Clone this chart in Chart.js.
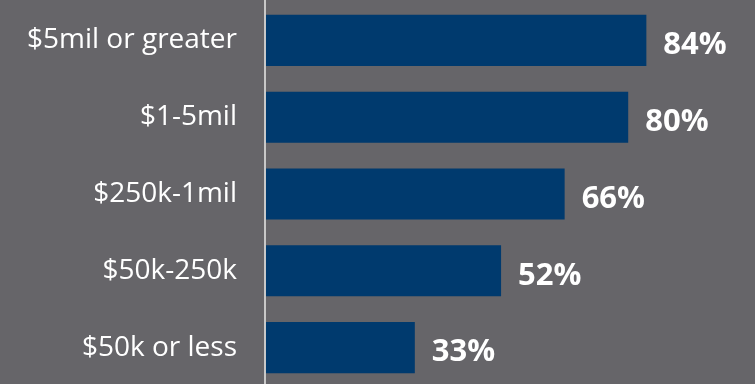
<!DOCTYPE html>
<html>
<head>
<meta charset="utf-8">
<script src="https://cdn.jsdelivr.net/npm/chart.js@4/dist/chart.umd.min.js"></script>
<style>
html,body{margin:0;padding:0;background:#666569;overflow:hidden;}
#wrap{width:755px;height:386px;position:relative;}
</style>
</head>
<body>
<div id="wrap"><canvas id="c"></canvas></div>
<script>
const categories = ["$5mil or greater", "$1-5mil", "$250k-1mil", "$50k-250k", "$50k or less"];
const values = [84, 80, 66, 52, 33];

const valueLabels = {
  id: 'valueLabels',
  afterDatasetsDraw(chart) {
    const ctx = chart.ctx;
    const meta = chart.getDatasetMeta(0);
    ctx.save();
    ctx.fillStyle = '#ffffff';
    ctx.font = 'bold 31px "Open Sans"';
    ctx.textAlign = 'left';
    ctx.textBaseline = 'middle';
    meta.data.forEach((bar, i) => {
      ctx.fillText(values[i] + '%', bar.x + 17, bar.y + 5);
    });
    ctx.restore();
  }
};

const axisLine = {
  id: 'axisLine',
  afterDraw(chart) {
    const ctx = chart.ctx;
    const x = chart.chartArea.left;
    ctx.save();
    ctx.strokeStyle = '#c8c8c8';
    ctx.lineWidth = 2;
    ctx.beginPath();
    ctx.moveTo(x, 0);
    ctx.lineTo(x, chart.height);
    ctx.stroke();
    ctx.restore();
  }
};

new Chart(document.getElementById('c'), {
  type: 'bar',
  data: {
    labels: categories,
    datasets: [{
      data: values,
      backgroundColor: '#003a6e',
      borderWidth: 0,
      categoryPercentage: 1,
      barPercentage: 0.665
    }]
  },
  options: {
    indexAxis: 'y',
    responsive: true,
    maintainAspectRatio: false,
    animation: false,
    layout: { padding: { left: 0, right: 36, top: 2, bottom: 0 } },
    plugins: { legend: { display: false }, tooltip: { enabled: false } },
    scales: {
      x: { display: false, min: 0, max: 100 },
      y: {
        grid: { display: false, drawTicks: false },
        border: { display: false },
        ticks: { color: '#ffffff', font: { family: 'Open Sans', size: 28 }, padding: 28 },
        afterFit(scale) { scale.width = 265; scale.paddingTop = 0; scale.paddingBottom = 0; }
      }
    }
  },
  plugins: [valueLabels, axisLine]
});
</script>
</body>
</html>
